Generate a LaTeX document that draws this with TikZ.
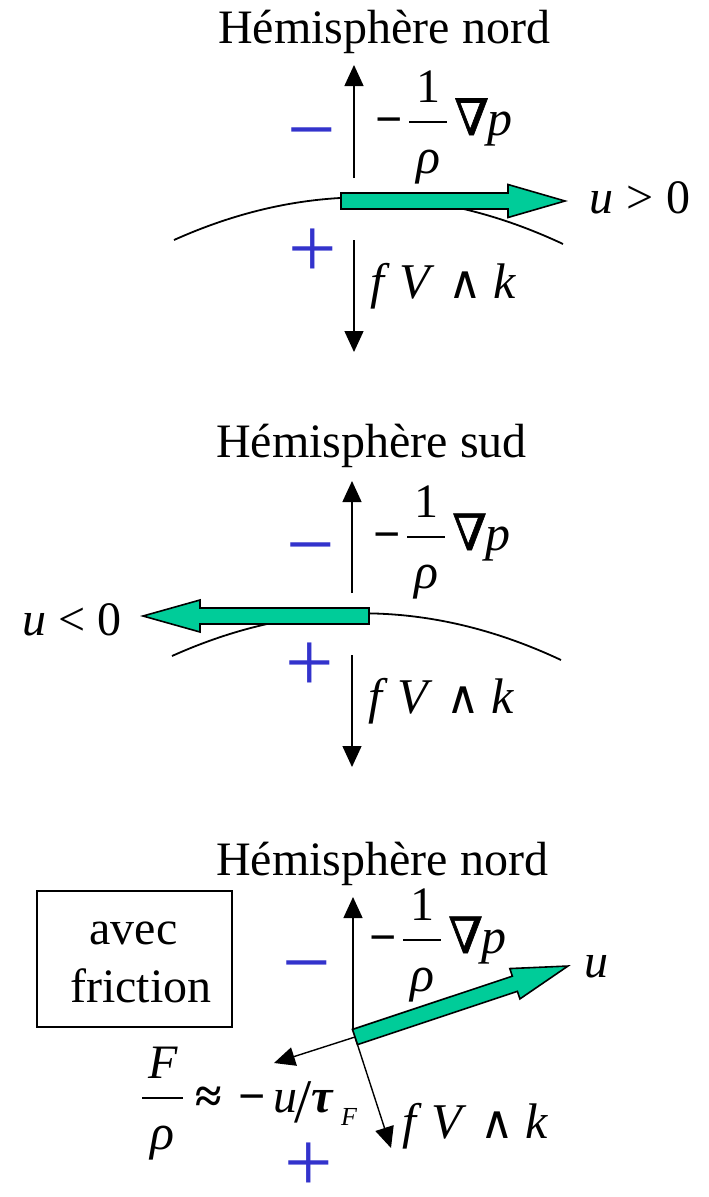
\documentclass[tikz,border=0pt]{standalone}
\usepackage{fontspec}
\setmainfont{Liberation Serif}
\newfontfamily\djsans{DejaVu Sans}
\newfontfamily\nablafont[FakeBold=1.2]{DejaVu Serif}
\usetikzlibrary{arrows.meta}
\definecolor{flowgreen}{RGB}{0,204,153}
\definecolor{signblue}{RGB}{51,51,204}
\newcommand\bigfont{\fontsize{48}{58}\selectfont}
\newcommand\mathsz{\fontsize{50}{50}\selectfont}
\newcommand\signfont{\fontsize{86}{86}\selectfont}
% text fraction: #1 width, #2 numerator, #3 raise of numerator, #4 denominator, #5 lowering of denominator, #6 raise of bar
\newcommand\txtfrac[6]{\makebox[#1][c]{\raisebox{#3}{#2}}\hspace{-#1}\rule[#6]{#1}{1.8pt}\hspace{-#1}\makebox[#1][c]{\raisebox{-#5}{#4}}}
\newcommand\gradp{\makebox[34pt][l]{\bfseries −}\makebox[45pt][l]{\txtfrac{38pt}{1}{33pt}{\mathsz\itshape ρ}{38pt}{12pt}}\makebox[33pt][l]{\nablafont\fontsize{50}{50}\selectfont ∇}{\mathsz\itshape p}}
\newcommand\fVk{\mathsz\makebox[29pt][l]{\itshape f}\makebox[49pt][l]{\itshape V}\makebox[45pt][l]{\djsans\fontsize{46}{46}\selectfont ∧}\textit{k}}
\tikzset{
  lbl/.style={inner sep=0pt, font=\bigfont},
  force/.style={line width=1.4pt, -{Triangle[length=21pt,width=19pt]}},
  flow/.style={fill=flowgreen, draw=black, line width=1.6pt, line join=miter},
  earth/.style={line width=1.8pt},
  sign/.style={inner sep=0pt, font=\signfont, text=signblue, anchor=base, text height=44pt, text depth=0pt},
  framebox/.style={draw, line width=1.6pt, inner sep=0pt, minimum width=195pt, minimum height=136pt}
}
\begin{document}
\begin{tikzpicture}[x=1pt,y=-1pt]
\useasboundingbox (0,0) rectangle (709,1197);
% ---------- Panel 1 : Hemisphere nord ----------
\node[lbl, anchor=base west] (t1) at (218,43) {Hémisphère nord};
\draw[earth] (174,240) .. controls (303.7,181.8) and (433.3,183.1) .. (563,244);
\coordinate (a1s) at (354,178); \coordinate (a1e) at (354,65);
\coordinate (b1s) at (354,240); \coordinate (b1e) at (354,352);
\draw[force] (a1s) -- (a1e);
\draw[force] (b1s) -- (b1e);
\draw[flow] (341,193) -- (508,193) -- (508,184.5) -- (565,201) -- (508,217.5) -- (508,209) -- (341,209) -- cycle;
\node[sign] (m1) at (311.5,158.5) {−};
\node[sign] (p1) at (312.5,277.8) {+};
\node[lbl, anchor=base west] (g1) at (375,135) {\gradp};
\node[lbl, anchor=base west] (c1) at (370,298) {\fVk};
\node[lbl, anchor=base west] (u1) at (589,213) {\makebox[37pt][l]{\itshape u}\makebox[40pt][l]{>}0};
% ---------- Panel 2 : Hemisphere sud ----------
\node[lbl, anchor=base west] (t2) at (216,457) {Hémisphère sud};
\draw[earth] (172,656) .. controls (301.7,597.8) and (431.3,599.1) .. (561,660);
\coordinate (a2s) at (352,593); \coordinate (a2e) at (352,481);
\coordinate (b2s) at (352,655); \coordinate (b2e) at (352,767);
\draw[force] (a2s) -- (a2e);
\draw[force] (b2s) -- (b2e);
\draw[flow] (369,608) -- (200,608) -- (200,600) -- (143,616) -- (200,632) -- (200,624) -- (369,624) -- cycle;
\node[sign] (m2) at (310.5,573.5) {−};
\node[sign] (p2) at (310,691.8) {+};
\node[lbl, anchor=base west] (g2) at (373,550) {\gradp};
\node[lbl, anchor=base west] (c2) at (368,713) {\fVk};
\node[lbl, anchor=base west] (u2) at (22,635) {\makebox[36pt][l]{\itshape u}\makebox[39pt][l]{<}0};
% ---------- Panel 3 : Hemisphere nord avec friction ----------
\node[lbl, anchor=base west] (t3) at (216,875) {Hémisphère nord};
\node[framebox] (fbox) at (134.5,959) {};
\node[lbl, anchor=base] (ftxt) at (141,944) {\begin{tabular}[t]{@{}c@{}}avec\hspace*{15pt}\\friction\end{tabular}};
\coordinate (o3) at (355,1037);
\coordinate (a3s) at (353,1030); \coordinate (a3e) at (353,897);
\coordinate (fr3) at (274,1063);
\coordinate (co3) at (391,1148);
\draw[force] (a3s) -- (a3e);
\draw[force] (o3) -- (fr3);
\draw[force] (o3) -- (co3);
\begin{scope}[shift={(o3)}, rotate=18.43]
\draw[flow] (0,-8) -- (168.5,-8) -- (168.5,-16) -- (224.5,0) -- (168.5,16) -- (168.5,8) -- (0,8) -- cycle;
\end{scope}
\node[sign] (m3) at (306.5,991.5) {−};
\node[sign] (p3) at (309,1191) {+};
\node[lbl, anchor=base west] (g3) at (369,953) {\gradp};
\node[lbl, anchor=base west] (c3) at (402,1138) {\fVk};
\node[lbl, anchor=base west] (u3) at (584,977) {\itshape u};
\node[lbl, anchor=base west] (fr) at (142,1112) {\makebox[53pt][l]{\txtfrac{41pt}{\itshape F}{34pt}{\mathsz\itshape ρ}{37pt}{13pt}}\makebox[43pt][l]{\bfseries ≈}\makebox[35pt][l]{\bfseries −}\makebox[21pt][l]{\itshape u}\makebox[17pt][l]{\raisebox{-10pt}{\fontsize{62}{62}\selectfont /}}\makebox[30pt][l]{\bfseries\itshape τ}\raisebox{-13pt}{\fontsize{26}{26}\selectfont\itshape F}};
\end{tikzpicture}
\end{document}
